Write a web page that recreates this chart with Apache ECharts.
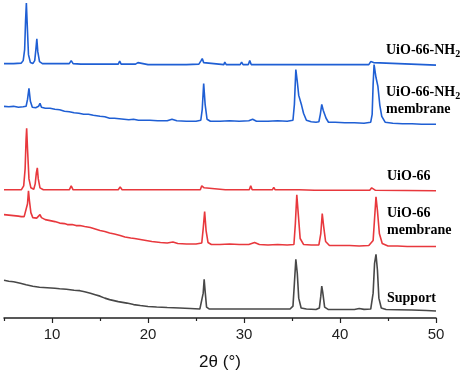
<!DOCTYPE html>
<html>
<head>
<meta charset="utf-8">
<title>XRD</title>
<script src="https://cdn.jsdelivr.net/npm/echarts@6.0.0/dist/echarts.min.js"></script>
<style>
  html, body { margin: 0; padding: 0; background: #fff; }
  #chartBox { width: 474px; height: 376px; }
</style>
</head>
<body>
<div id="chartBox"></div>
<script>
// 2θ tick labels
var majorTicks = [10, 20, 30, 40, 50];
var minorTicks = [5, 15, 25, 35, 45];

// patterns, [2θ, intensity] (stacked offsets, arbitrary units)
var uioNH2 = [
  [5,256],[6,256],[6.8,256.5],[7.0,259],[7.15,270],[7.25,300],[7.33,317],[7.42,295],[7.55,265],[7.75,257],
  [8.0,256],[8.2,259],[8.32,270],[8.42,281],[8.52,268],[8.7,258],[9,256],[10,256],[11,256],[11.8,256],
  [12.0,259],[12.2,256],[13,255.5],[13.9,255.5],[14.05,257.5],[14.2,255.5],[14.6,255.5],[14.75,257.5],[14.9,255.5],
  [16,255.5],[16.9,255.5],[17.05,258.5],[17.2,255.5],[18.4,255.5],[18.55,257.5],[18.7,255.5],[18.95,257],[19.1,255.5],
  [20,255],[22,255],[22.1,257],[22.25,255],[24,255],[25.3,255.5],[25.5,258.5],[25.65,261],[25.8,257],[26,255],
  [27.9,255],[28.0,257.5],[28.15,255],[29.6,255],[29.75,257.5],[29.9,255],[30.45,255],[30.6,259],[30.75,255],
  [32.1,255],[32.2,257],[32.35,255],[32.9,255],[33.05,257],[33.2,255],[34.4,255],[34.5,256.5],[34.65,255],
  [35.4,255],[35.5,257],[35.65,255],[37.3,255],[37.4,257],[37.55,255],[40.6,255],[40.7,257],[40.85,255],
  [43.0,255],[43.2,258],[43.5,257],[43.7,255],[50,254.5]
];
var uioNH2Membrane = [
  [5,213],[5.5,212.5],[6,213],[6.5,212],[7,212.5],[7.3,213],[7.45,220],[7.6,231],[7.75,218],[7.95,212],
  [8.3,211.5],[8.6,213],[8.75,216],[8.9,212],[9.3,211],[9.8,211],[10.3,210],[10.8,209.5],[11.3,208],[11.8,207.5],
  [12.3,206.5],[12.8,206],[13.3,205],[13.8,205],[14.3,204],[15,203],[15.5,202.5],[16,201],[16.5,201],[17,200.5],
  [17.5,200],[18,199.5],[18.5,200],[19,199],[19.5,199],[20.2,199],[21,198.5],[22,198.5],[22.5,200],[23,198.5],
  [24,198],[25,198],[25.5,199],[25.65,210],[25.8,236],[25.95,215],[26.15,200],[26.5,198],[27.5,198],[28.5,198.5],
  [29.5,198],[30.5,198.5],[30.9,200],[31.3,198],[32.5,198],[33.5,198.5],[34.5,198],[35.1,199],[35.25,215],
  [35.4,250],[35.55,238],[35.7,224],[35.85,222],[36.0,214],[36.2,206],[36.5,199],[37,197.5],[37.5,197],
  [37.8,197.5],[37.95,205],[38.1,215],[38.25,209],[38.4,208],[38.55,201],[38.8,197],[39.5,197],[40.5,196.5],
  [41.5,196.5],[42.5,196],[43.2,197],[43.35,205],[43.45,235],[43.55,255],[43.75,242],[43.95,233],[44.15,214],
  [44.35,203],[44.7,197],[45.5,196],[46.5,195.5],[47.5,195.5],[48.5,195],[50,195]
];
var uio66 = [
  [5,129],[6.8,129],[7.05,133],[7.2,150],[7.3,180],[7.36,191],[7.45,170],[7.6,140],[7.8,131],[8.1,129.5],
  [8.25,135],[8.37,146],[8.47,151],[8.57,140],[8.75,131],[9.1,129],[11.8,129],[12.0,133],[12.2,129],
  [14.6,129],[14.8,131],[15,129],[16.9,129],[17.1,132],[17.3,129],[18.35,129],[18.5,131],[18.65,129],
  [18.95,129],[19.1,131],[19.25,129],[22.05,129],[22.2,131],[22.35,129],[25.45,129],[25.6,133],[25.7,135],
  [25.85,131],[26.05,129],[28.05,129],[28.2,131],[28.35,129],[29.65,129],[29.8,131],[29.95,129],[30.55,129],
  [30.7,133],[30.85,129],[32.15,129],[32.3,131],[32.45,129],[32.95,129],[33.1,131.5],[33.25,129],[35.45,129],
  [35.6,131],[35.75,129],[37.35,128.5],[37.5,130.5],[37.65,128.5],[39.35,128.5],[39.5,130],[39.65,128.5],
  [40.55,128.5],[40.7,130.5],[40.85,128.5],[43.1,128.5],[43.3,131],[43.5,130],[43.7,128.5],[50,128]
];
var uio66Membrane = [
  [5,104],[5.5,103.5],[6,103],[6.5,102.5],[6.8,102],[7.1,102],[7.3,104],[7.45,115],[7.55,128],[7.65,118],
  [7.8,106],[8.0,101],[8.4,100.5],[8.6,101.5],[8.75,104],[8.9,101],[9.3,99],[9.8,98],[10.3,97],[10.8,95.5],
  [11.3,95],[11.6,94],[12.1,94],[12.5,93],[12.9,93],[13.4,92],[14,91],[14.5,89.5],[15,88],[15.5,87],
  [16,85.5],[16.5,84.5],[17.1,83],[17.6,81.5],[18.2,80.5],[18.6,80],[19.2,79],[19.8,78],[20.4,77],[21.3,76],
  [22,75.5],[22.6,76.5],[23.1,75],[24,74.5],[25,74.5],[25.6,75.5],[25.75,90],[25.9,107],[26.05,88],[26.25,76],
  [26.6,74],[27.5,74],[28.5,74.5],[29.5,74],[30.5,74],[31.1,76],[31.6,74],[32.5,73.5],[33.5,74],[34.5,73.5],
  [35.2,74],[35.35,95],[35.5,124],[35.65,105],[35.85,80],[36.2,74],[37,73.5],[37.8,73.5],[38.0,85],[38.15,105],
  [38.3,92],[38.5,77],[38.9,73],[40,73],[41,73],[42,72.5],[43,73],[43.45,78],[43.6,100],[43.75,122],
  [43.9,108],[44.1,85],[44.4,75],[45,72.5],[46,72.5],[47,72],[48,72],[49,72],[50,72]
];
var support = [
  [5,38],[5.5,37],[6,36.5],[6.7,35],[7.3,33.5],[8,32],[8.7,31],[9.5,30.5],[10.3,30],[10.8,29.5],
  [11.5,29],[12.3,28],[12.9,27.5],[13.4,26.5],[14,25],[14.5,23.5],[15,22],[15.5,20],[16,18.5],[16.9,16.5],
  [17.8,15],[18.5,13.5],[19.2,12.5],[20,11.5],[20.9,11],[22,10.5],[23.3,10],[24.4,9.5],[25.4,9],[25.6,11],
  [25.75,25],[25.85,39],[25.95,27],[26.1,11],[26.4,9],[27.5,9],[29,9],[30.5,9],[32,9],[33.5,9],
  [34.8,9],[35.1,12],[35.25,35],[35.4,59],[35.55,45],[35.7,20],[35.95,10],[36.5,9],[37.5,8.5],[37.85,10],
  [38.0,22],[38.1,32],[38.2,26],[38.4,11],[38.8,8.5],[40,8.5],[41.5,8.5],[42.0,9.5],[42.2,10],[42.5,8.7],
  [43.2,9],[43.45,25],[43.6,55],[43.75,64],[43.9,48],[44.05,20],[44.3,10],[44.8,8.5],[46,8.3],[47.5,8],
  [49,7.5],[50,7]
];

var blue = "#1f5fd4";
var red = "#e8383d";
var gray = "#484848";
var serif = "'Liberation Serif', 'Times New Roman', serif";
var sans = "'Liberation Sans', Arial, sans-serif";

function line(name, data, color) {
  return {
    name: name,
    type: "line",
    data: data,
    showSymbol: false,
    silent: true,
    lineStyle: { color: color, width: 1.6 },
    z: 2
  };
}

// sample labels (rich text, "2" dropped as a subscript)
var rich = {
  n: { fontFamily: serif, fontWeight: "bold", fontSize: 14, color: "#111", lineHeight: 17 },
  s: { fontFamily: serif, fontWeight: "bold", fontSize: 10, color: "#111", lineHeight: 10,
       verticalAlign: "top", padding: [7, 0, 0, 0] }
};
function label(text, x, y) {
  return {
    type: "text",
    left: x,
    top: y,
    style: { text: text, rich: rich }
  };
}

var chart = echarts.init(document.getElementById("chartBox"));
var option = {
  animation: false,
  grid: { left: 4, right: 38, top: 0, bottom: 56 },
  xAxis: [
    {
      type: "value",
      min: 5,
      max: 50,
      interval: 5,
      name: "2θ (°)",
      nameLocation: "middle",
      nameGap: 36,
      nameTextStyle: { fontFamily: sans, fontSize: 17, color: "#111" },
      axisLine: { lineStyle: { color: "#222", width: 1.5 } },
      axisTick: { length: 3, lineStyle: { color: "#222", width: 1.2 }, customValues: minorTicks },
      axisLabel: { customValues: majorTicks, margin: 9, fontFamily: sans, fontSize: 15, color: "#222" },
      splitLine: { show: false }
    },
    {
      // longer ticks at the labelled values
      type: "value",
      min: 5,
      max: 50,
      interval: 5,
      position: "bottom",
      axisLine: { show: false },
      axisTick: { length: 5, lineStyle: { color: "#222", width: 1.2 }, customValues: majorTicks },
      axisLabel: { show: false },
      splitLine: { show: false }
    }
  ],
  yAxis: { type: "value", min: 0, max: 320, show: false },
  series: [
    line("UiO-66-NH2", uioNH2, blue),
    line("UiO-66-NH2 membrane", uioNH2Membrane, blue),
    line("UiO-66", uio66, red),
    line("UiO-66 membrane", uio66Membrane, red),
    line("Support", support, gray)
  ],
  graphic: [
    label("{n|UiO-66-NH}{s|2}", 386, 42),
    label("{n|UiO-66-NH}{s|2}\n{n|membrane}", 386, 84),
    label("{n|UiO-66}", 387, 169),
    label("{n|UiO-66}\n{n|membrane}", 387, 206),
    label("{n|Support}", 387, 291)
  ]
};
chart.setOption(option);
</script>
</body>
</html>
